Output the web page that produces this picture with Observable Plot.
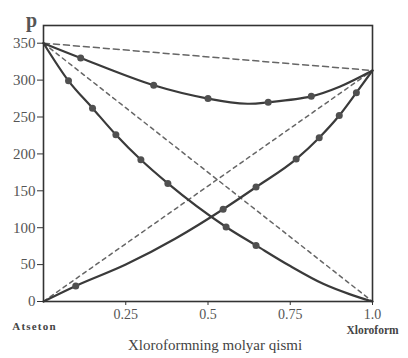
<!DOCTYPE html>
<html>
<head>
<meta charset="utf-8">
<script src="https://cdn.jsdelivr.net/npm/d3@7"></script>
<script src="https://cdn.jsdelivr.net/npm/@observablehq/plot@0.6"></script>
<style>
  html, body { margin: 0; padding: 0; background: #ffffff; }
  #chart svg { display: block; }
</style>
</head>
<body>
<div id="chart"></div>
<script>
// Pure-component vapour pressures
const pAcetonePure = 350;
const pChloroformPure = 313;

// Total pressure curve (line knots) and measured points
const totalLineX = [0, 0.113, 0.335, 0.5, 0.62, 0.683, 0.814, 0.9, 1];
const totalLineP = [350, 330, 293, 275, 268, 270, 278, 291, 313];
const totalDotX = [0.113, 0.335, 0.5, 0.683, 0.814];
const totalDotP = [330, 293, 275, 270, 278];

// Acetone partial pressure
const acetoneLineX = [0, 0.076, 0.149, 0.22, 0.296, 0.378, 0.555, 0.646, 0.75, 0.85, 0.93, 1];
const acetoneLineP = [350, 299, 262, 226, 192, 160, 101, 76, 48, 24, 10, 0];
const acetoneDotX = [0.076, 0.149, 0.22, 0.296, 0.378, 0.555, 0.646];
const acetoneDotP = [299, 262, 226, 192, 160, 101, 76];

// Chloroform partial pressure
const chloroLineX = [0, 0.098, 0.25, 0.4, 0.546, 0.646, 0.768, 0.838, 0.899, 0.951, 1];
const chloroLineP = [0, 21, 50, 85, 125, 155, 193, 222, 252, 283, 313];
const chloroDotX = [0.098, 0.546, 0.646, 0.768, 0.838, 0.899, 0.951];
const chloroDotP = [21, 125, 155, 193, 222, 252, 283];

// Axis ticks
const xTicks = [0.25, 0.5, 0.75, 1.0];
const xTickLabels = ["0.25", "0.5", "0.75", "1.0"];
const yTicks = [0, 50, 100, 150, 200, 250, 300, 350];

const zip = (xs, ys) => xs.map((x, i) => ({x, p: ys[i]}));

const idealTotal = [{x: 0, p: pAcetonePure}, {x: 1, p: pChloroformPure}];
const idealAcetone = [{x: 0, p: pAcetonePure}, {x: 1, p: 0}];
const idealChloro = [{x: 0, p: 0}, {x: 1, p: pChloroformPure}];

const lineColor = "#3a3a3a";
const dashColor = "#666";
const textColor = "#555";

const chart = Plot.plot({
  width: 408,
  height: 358,
  marginLeft: 43,
  marginRight: 36,
  marginTop: 25,
  marginBottom: 57,
  x: {domain: [0, 1]},
  y: {domain: [0, 374]},
  style: {fontFamily: "'Liberation Serif', 'DejaVu Serif', serif", background: "#ffffff", fontSize: "14px"},
  marks: [
    // ideal (Raoult) dashed lines
    Plot.line(idealTotal, {x: "x", y: "p", stroke: dashColor, strokeWidth: 1.5, strokeDasharray: "6,4"}),
    Plot.line(idealAcetone, {x: "x", y: "p", stroke: dashColor, strokeWidth: 1.5, strokeDasharray: "4,4"}),
    Plot.line(idealChloro, {x: "x", y: "p", stroke: dashColor, strokeWidth: 1.5, strokeDasharray: "4,4"}),
    // real curves
    Plot.line(zip(totalLineX, totalLineP), {x: "x", y: "p", curve: "catmull-rom", stroke: lineColor, strokeWidth: 2.2}),
    Plot.line(zip(acetoneLineX, acetoneLineP), {x: "x", y: "p", curve: "monotone-x", stroke: lineColor, strokeWidth: 2.2}),
    Plot.line(zip(chloroLineX, chloroLineP), {x: "x", y: "p", curve: "monotone-x", stroke: lineColor, strokeWidth: 2.2}),
    // measured points
    Plot.dot(zip(totalDotX, totalDotP), {x: "x", y: "p", r: 3.5, fill: "#505050", stroke: "none"}),
    Plot.dot(zip(acetoneDotX, acetoneDotP), {x: "x", y: "p", r: 3.5, fill: "#505050", stroke: "none"}),
    Plot.dot(zip(chloroDotX, chloroDotP), {x: "x", y: "p", r: 3.5, fill: "#505050", stroke: "none"}),
    // axes
    Plot.axisY({ticks: yTicks, tickSize: 6, tickPadding: 2, label: null, fontSize: 15, color: textColor, stroke: "#333"}),
    Plot.axisX({ticks: xTicks, tickFormat: (d, i) => xTickLabels[i], tickSize: 4, tickPadding: 4, label: null, fontSize: 14, color: textColor, stroke: "#333"}),
    Plot.frame({stroke: "#333", strokeWidth: 1.6}),
    // end labels
    Plot.text(["Atseton"], {x: 0, y: 0, dx: -9, dy: 25, fontSize: 11, fontWeight: "bold", fill: "#444", text: d => d}),
    Plot.text(["Xloroform"], {x: 1, y: 0, dx: 0, dy: 29, fontSize: 11.5, fontWeight: "bold", fill: "#444", text: d => d}),
    // axis title
    Plot.text(["Xloroformning molyar qismi"], {x: 0.5, y: 0, dx: 7, dy: 44, fontSize: 15, fill: "#444", text: d => d}),
    // y title
    Plot.text(["p"], {x: 0, y: 374, dx: -12, dy: -5, fontSize: 20, fontWeight: "bold", fill: "#555", text: d => d})
  ]
});

d3.select(chart).selectAll("text")
  .filter(function() { return this.textContent === "Atseton"; })
  .attr("letter-spacing", "1.2");

document.getElementById("chart").appendChild(chart);
</script>
</body>
</html>
